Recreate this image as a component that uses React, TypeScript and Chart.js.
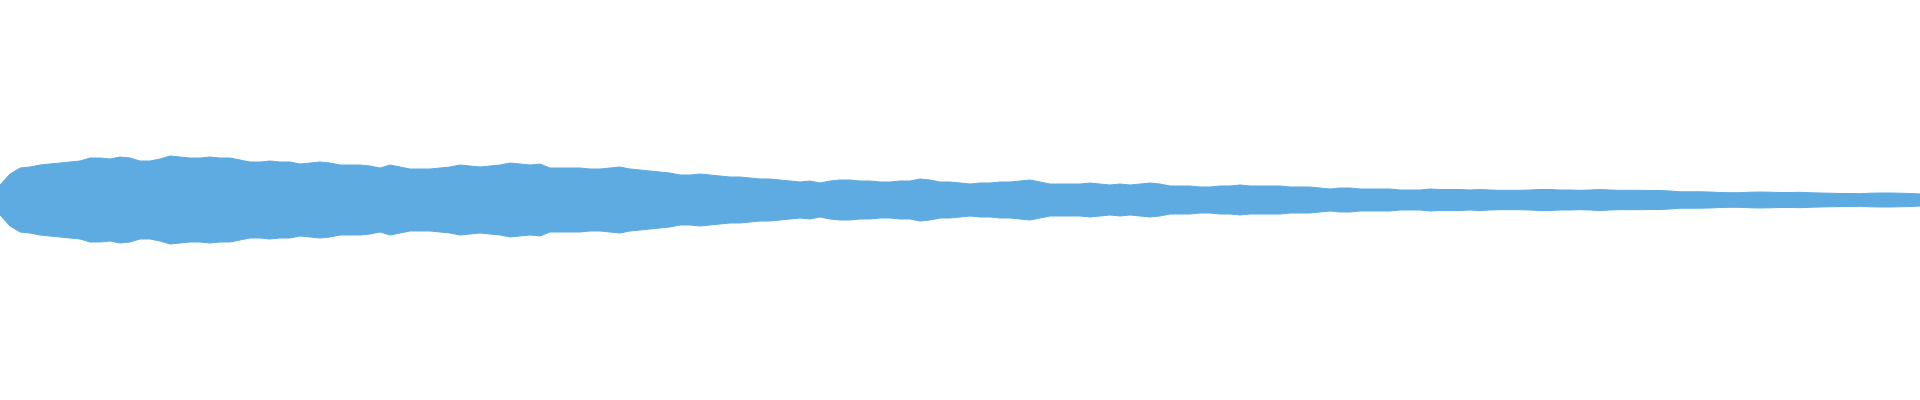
import Chart from 'chart.js/auto';
import { useEffect, useRef } from 'react';

// peak amplitude of the waveform, one reading every 10 columns (0..1920)
const peakLevels: number[] = [
    15, 26, 32, 33, 35, 36, 37, 38, 39, 42, 42, 41, 43, 42, 39, 39, 41, 44, 43, 42,
    42, 43, 42, 42, 40, 38, 38, 39, 38, 38, 36, 37, 38, 37, 35, 35, 35, 34, 32, 35,
    33, 31, 31, 31, 32, 33, 35, 34, 33, 34, 35, 37, 36, 35, 36, 32, 32, 32, 32, 31,
    31, 32, 33, 31, 30, 29, 28, 27, 25, 25, 26, 25, 24, 23, 23, 22, 21, 21, 20, 19,
    18, 19, 17, 19, 20, 20, 19, 19, 18, 18, 19, 19, 21, 20, 18, 18, 17, 16, 17, 17,
    18, 18, 19, 20, 18, 16, 16, 16, 16, 17, 16, 15, 16, 15, 16, 17, 16, 14, 14, 14,
    13, 13, 14, 14, 15, 14, 14, 14, 14, 13, 13, 13, 12, 11, 12, 12, 11, 11, 11, 11,
    10, 10, 10, 11, 10.5, 10.5, 10.5, 10, 10.5, 10, 9.7, 9.7, 9.7, 10, 10.5, 10.5, 10, 10, 9.7, 10,
    10.5, 10, 9.7, 9.7, 9.7, 9.5, 9.5, 9, 8.2, 8.2, 8.2, 8, 7.5, 7.3, 7.3, 7.8, 8, 7.8, 7.5, 7.5,
    7.7, 7.3, 7, 6.8, 6.5, 6.5, 6.3, 6.8, 7, 7, 6.8, 6.5, 6,
];

const waveColor = '#5dabe1';

const Waveform = () => {
    const chartRef = useRef<HTMLCanvasElement>(null);

    useEffect(() => {
        document.body.style.margin = '0';
        if (!chartRef.current) return;
        const ctx = chartRef.current.getContext('2d');
        if (!ctx) return;

        const waveChart = new Chart(ctx, {
            type: 'line',
            data: {
                labels: peakLevels.map((_, i) => i),
                datasets: [
                    {
                        label: 'peak',
                        data: peakLevels,
                        fill: '+1',
                        backgroundColor: waveColor,
                        borderColor: waveColor,
                        borderWidth: 1,
                        pointRadius: 0,
                        tension: 0,
                    },
                    {
                        label: 'trough',
                        data: peakLevels.map((v) => -v),
                        fill: false,
                        backgroundColor: waveColor,
                        borderColor: waveColor,
                        borderWidth: 1,
                        pointRadius: 0,
                        tension: 0,
                    },
                ],
            },
            options: {
                animation: false,
                responsive: true,
                maintainAspectRatio: false,
                layout: { padding: 0 },
                plugins: {
                    legend: { display: false },
                    tooltip: { enabled: false },
                },
                scales: {
                    x: { display: false, offset: false },
                    y: { display: false, min: -200, max: 200 },
                },
            },
        });

        return () => {
            waveChart.destroy();
        };
    }, []);

    return (
        <div style={{ width: '100vw', height: '400px', position: 'relative' }}>
            <canvas ref={chartRef}></canvas>
        </div>
    );
};

export default function App() {
    return <Waveform />;
}
